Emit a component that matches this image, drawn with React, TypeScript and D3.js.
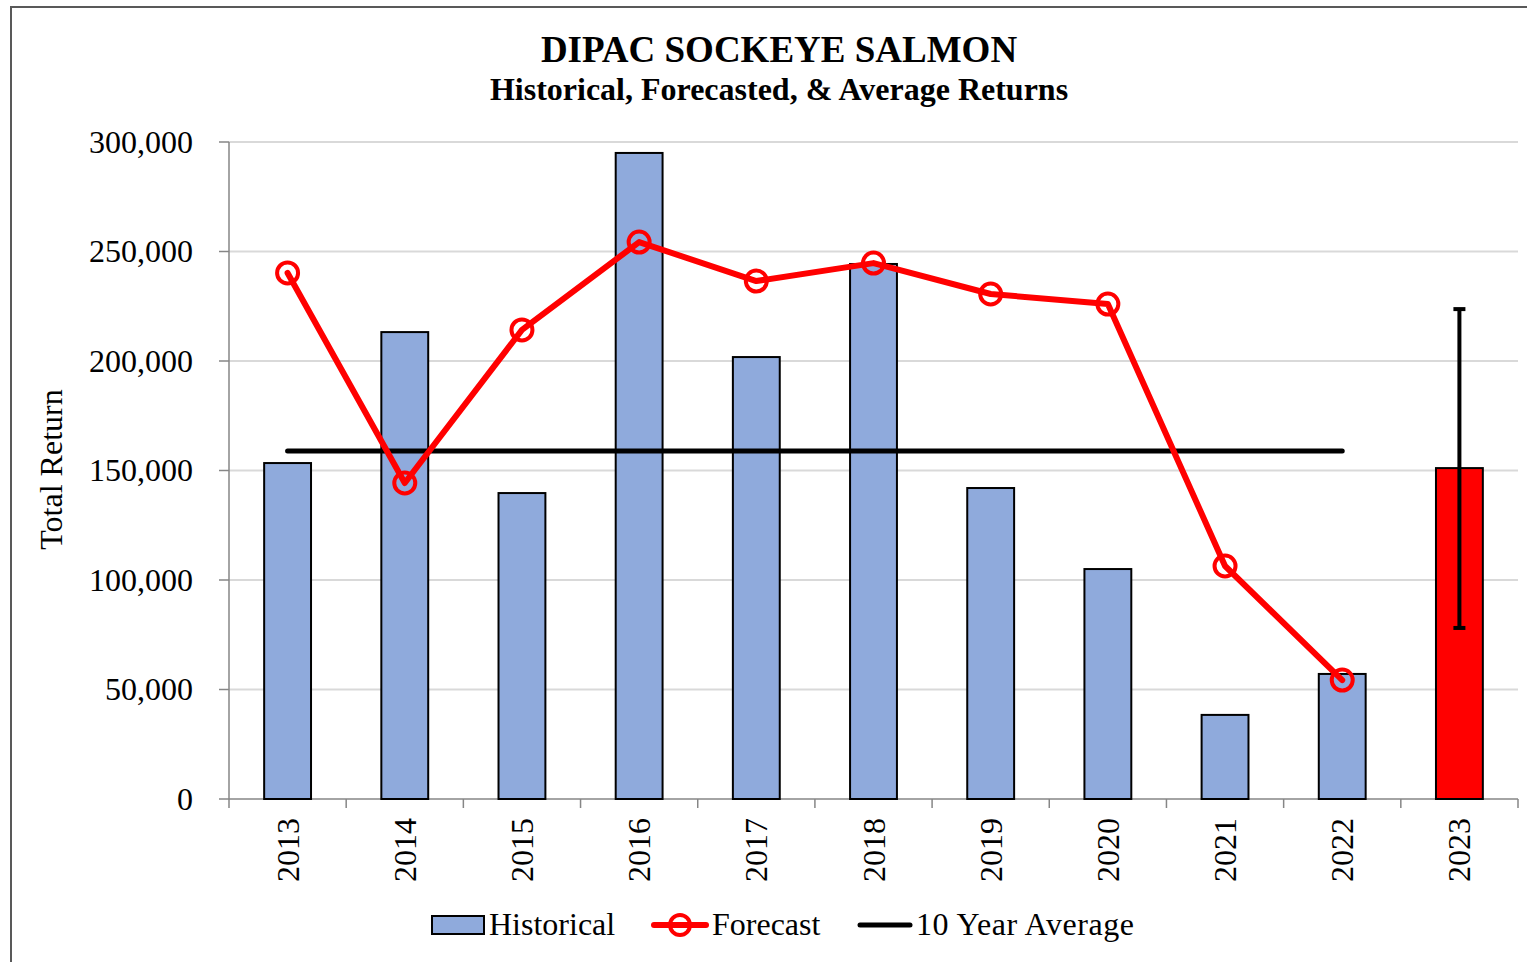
import React from 'react';
import * as d3 from 'd3';

const years = ['2013', '2014', '2015', '2016', '2017', '2018', '2019', '2020', '2021', '2022', '2023'];
const historical = [153400, 213200, 139700, 295000, 201800, 244300, 142000, 105000, 38400, 57100];
const forecast = [240200, 144300, 214200, 254300, 236500, 244700, 230600, 226000, 106400, 54300];
const forecast2023 = 151100;
const errorLow = 78100;
const errorHigh = 223700;
const tenYearAverage = 158900;
const yTicks = [0, 50000, 100000, 150000, 200000, 250000, 300000];

const font = '"Liberation Serif", "Times New Roman", serif';

export default function App() {
  const width = 1527;
  const height = 962;
  const margin = { top: 142, right: 9, bottom: 163, left: 229 };

  const x = d3.scaleBand().domain(years).range([margin.left, width - margin.right]).paddingInner(0.6).paddingOuter(0.3);
  const band = d3.scaleBand().domain(years).range([margin.left, width - margin.right]);
  const y = d3.scaleLinear().domain([0, 300000]).range([height - margin.bottom, margin.top]);
  const fmt = d3.format(',');
  const cx = (yr: string) => (band(yr) as number) + band.bandwidth() / 2;

  const line = d3.line<number>()
    .x((_, i) => cx(years[i]))
    .y((d) => y(d));

  const y0 = y(0);
  const bw = x.bandwidth();

  return (
    <svg width={width} height={height} style={{ position: 'absolute', left: 0, top: 0, background: '#fff' }} fontFamily={font}>
      <rect x={11} y={7} width={width + 10} height={height + 10} fill="#fff" stroke="#595959" strokeWidth={2} />

      <text x={779} y={62} textAnchor="middle" fontSize={37} fontWeight="bold">DIPAC SOCKEYE SALMON</text>
      <text x={779} y={100} textAnchor="middle" fontSize={32} fontWeight="bold">Historical, Forecasted, &amp; Average Returns</text>

      {yTicks.map((t) => (
        <g key={t}>
          {t > 0 && <line x1={margin.left} x2={width - margin.right} y1={y(t)} y2={y(t)} stroke="#d9d9d9" strokeWidth={2} />}
          <line x1={margin.left - 10} x2={margin.left} y1={y(t)} y2={y(t)} stroke="#868686" strokeWidth={1.5} />
          <text x={193} y={y(t)} dy="0.34em" textAnchor="end" fontSize={32}>{fmt(t)}</text>
        </g>
      ))}

      <line x1={margin.left} x2={margin.left} y1={margin.top} y2={y0} stroke="#868686" strokeWidth={1.5} />
      <line x1={margin.left} x2={width - margin.right} y1={y0} y2={y0} stroke="#868686" strokeWidth={1.5} />
      {years.concat(['end']).map((yr, i) => {
        const px = margin.left + i * band.bandwidth();
        return <line key={yr} x1={px} x2={px} y1={y0} y2={y0 + 9} stroke="#868686" strokeWidth={1.5} />;
      })}

      {years.map((yr) => (
        <text key={yr} transform={`translate(${cx(yr) + 11},${y0 + 19}) rotate(-90)`} textAnchor="end" fontSize={32}>{yr}</text>
      ))}

      <text transform={`translate(62,${(margin.top + y0) / 2 - 1}) rotate(-90)`} textAnchor="middle" fontSize={32}>Total Return</text>

      {historical.map((v, i) => (
        <rect key={years[i]} x={x(years[i])} y={y(v)} width={bw} height={y0 - y(v)} fill="#8faadc" stroke="#000" strokeWidth={2} />
      ))}
      <rect x={x('2023')} y={y(forecast2023)} width={bw} height={y0 - y(forecast2023)} fill="#ff0000" stroke="#000" strokeWidth={2} />

      <line x1={cx('2013')} x2={cx('2022')} y1={y(tenYearAverage)} y2={y(tenYearAverage)} stroke="#000" strokeWidth={5} strokeLinecap="round" />

      <path d={line(forecast) as string} fill="none" stroke="#ff0000" strokeWidth={6} strokeLinejoin="round" strokeLinecap="round" />
      {forecast.map((v, i) => (
        <circle key={years[i]} cx={cx(years[i])} cy={y(v)} r={10.5} fill="none" stroke="#ff0000" strokeWidth={4} />
      ))}

      <g stroke="#000" strokeWidth={4}>
        <line x1={cx('2023')} x2={cx('2023')} y1={y(errorHigh)} y2={y(errorLow)} />
        <line x1={cx('2023') - 6} x2={cx('2023') + 6} y1={y(errorHigh)} y2={y(errorHigh)} />
        <line x1={cx('2023') - 6} x2={cx('2023') + 6} y1={y(errorLow)} y2={y(errorLow)} />
      </g>

      <g fontSize={32}>
        <rect x={432} y={916} width={52} height={18} fill="#8faadc" stroke="#000" strokeWidth={2} />
        <text x={489} y={935}>Historical</text>
        <line x1={654} x2={706} y1={925} y2={925} stroke="#ff0000" strokeWidth={6} strokeLinecap="round" />
        <circle cx={680} cy={925} r={10} fill="none" stroke="#ff0000" strokeWidth={4} />
        <text x={712} y={935}>Forecast</text>
        <line x1={860} x2={910} y1={925} y2={925} stroke="#000" strokeWidth={5} strokeLinecap="round" />
        <text x={916} y={935} textLength={218}>10 Year Average</text>
      </g>
    </svg>
  );
}
